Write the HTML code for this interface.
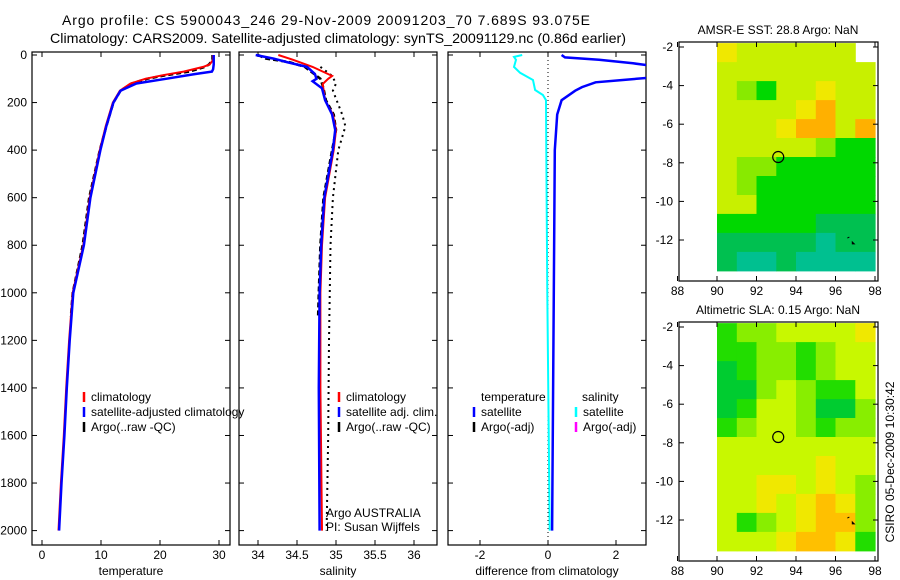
<!DOCTYPE html>
<html><head><meta charset="utf-8">
<style>
html,body{margin:0;padding:0;background:#fff;}
svg{display:block;font-family:"Liberation Sans",sans-serif;}
</style></head>
<body>
<svg id="fig" width="900" height="580" viewBox="0 0 900 580" xmlns="http://www.w3.org/2000/svg">
<text x="62" y="25" font-size="14" textLength="528" lengthAdjust="spacing">Argo profile: CS 5900043_246 29-Nov-2009 20091203_70 7.689S 93.075E</text>
<text x="50" y="43" font-size="14" textLength="576" lengthAdjust="spacingAndGlyphs">Climatology: CARS2009. Satellite-adjusted climatology: synTS_20091129.nc (0.86d earlier)</text>
<text transform="translate(894,462) rotate(-90)" font-size="12" text-anchor="middle">CSIRO 05-Dec-2009 10:30:42</text>
</svg>
<script>
// ---------- data ----------
const tClimDepth=[0,20,40,50,70,85,100,120,150,200,300,400,600,800,1000,1200,1400,1600,1800,2000];
const tClimVal=[29,29,28.4,27.3,24,20.5,17.5,15,13.2,12,10.8,9.8,8.1,7,5.2,4.6,4.1,3.7,3.2,2.8];
const tSatDepth=[0,20,40,60,70,80,100,120,150,200,300,400,600,800,1000,1200,1400,1600,1800,2000];
const tSatVal=[29.1,29.1,29.1,29,28.8,26,21,16,13.3,12.1,10.9,9.9,8.2,7.1,5.3,4.7,4.2,3.8,3.3,2.9];
const tArgoDepth=[0,20,40,50,70,85,100,120,150,200,300,400,600,800,1000,1100];
const tArgoVal=[28.9,28.9,28.3,27.6,25,21,17.8,15.2,13.3,12.1,10.9,9.8,8.0,6.9,5.2,4.9];
const sClimDepth=[0,20,50,88,100,122,190,250,315,400,600,800,1000,1400,2000];
const sClimVal=[34.26,34.45,34.7,34.95,34.9,34.83,34.86,34.96,35.0,34.97,34.86,34.82,34.8,34.8,34.82];
const sSatDepth=[0,15,30,50,80,100,110,140,190,250,315,400,600,800,1000,1400,2000];
const sSatVal=[33.97,34.2,34.37,34.63,34.73,34.75,34.7,34.82,34.86,34.95,34.99,34.96,34.85,34.81,34.79,34.78,34.79];
const sArgoDepth=[0,15,30,50,80,100,140,190,250,315,400,600,800,1000,1100];
const sArgoVal=[34.0,34.1,34.4,34.6,34.72,34.8,34.84,34.87,34.97,35.0,34.95,34.84,34.8,34.78,34.77];
const sArgoAdjDepth=[50,75,88,120,150,250,300,400,600,800,1200,1600,2000];
const sArgoAdjVal=[34.8,34.9,34.95,35.0,34.96,35.08,35.12,35.03,34.96,34.93,34.91,34.9,34.88];
const dTDepth=[0,10,20,35,50,80,95,105,115,135,150,190,250,400,1000,2000];
const dTVal=[0.4,0.5,1.5,2.5,3.3,3.5,3,2.2,1.4,1.0,0.8,0.4,0.27,0.2,0.17,0.12];
const dSDepth=[0,8,20,50,75,105,147,168,190,400,1000,2000];
const dSVal=[-0.76,-1.0,-0.94,-1.0,-0.82,-0.44,-0.38,-0.15,-0.06,-0.05,-0.02,0.05];
const depthTicks=[0,200,400,600,800,1000,1200,1400,1600,1800,2000];
const tTicks=[0,10,20,30];
const sTicks=[34,34.5,35,35.5,36];
const sTickLabels=["34","34.5","35","35.5","36"];
const dTicks=[-2,0,2];
const lonTicks=[88,90,92,94,96,98];
const latTicks=[-2,-4,-6,-8,-10,-12];
const sstGrid=[
[5,4,4,4,4,4,4,-1],[4,4,4,4,4,4,4,4],[4,3,2,4,4,5,4,4],[4,4,4,4,5,6,4,4],
[4,4,4,5,6,6,4,6],[4,4,4,4,4,3,2,2],[4,3,3,2,2,2,2,2],[4,3,2,2,2,2,2,2],
[4,4,2,2,2,2,2,2],[2,2,2,2,2,1,1,1],[1,1,1,1,1,0,1,1],[1,0,0,1,0,0,0,0]];
const slaGrid=[
[1,2,2,3,3,3,3,4],[1,1,2,2,1,2,3,3],[0,1,2,2,1,2,3,3],[0,0,2,3,2,1,1,3],
[0,1,3,3,2,0,0,2],[1,2,3,3,2,1,2,2],[3,3,3,3,3,3,3,3],[3,3,3,3,3,4,3,3],
[3,3,4,4,3,4,3,2],[3,3,4,3,4,5,4,2],[3,1,2,3,4,5,5,2],[3,3,3,4,5,5,4,1]];
const sstPalette=["#00c090","#00c050","#00d800","#88ea00","#c8f000","#f0e800","#ffb000","#c83000"];
const slaPalette=["#00cc30","#22dd00","#88ee00","#c8f800","#f0e800","#ffc000"];
const profLon=93.1, profLat=-7.7;

// ---------- helpers ----------
const NS="http://www.w3.org/2000/svg";
const svg=document.getElementById('fig');
function mk(tag,attrs){const e=document.createElementNS(NS,tag);for(const k in attrs)e.setAttribute(k,attrs[k]);svg.appendChild(e);return e;}
const yD=d=>55+d*0.2378;
const xT=t=>42+5.9*t;
const xS=s=>258+78*(s-34);
const xDf=d=>548+34*d;

function panel(name,x0,x1,xs,xticks,xlabels,title,showY){
  const f=mk('rect',{x:x0,y:52,width:x1-x0,height:493,fill:'none',stroke:'#000','stroke-width':1.2});
  
  
  depthTicks.forEach(d=>{
    const y=yD(d);
    const a=mk('line',{x1:x0,x2:x0+5,y1:y,y2:y,stroke:'#000'});
    
    
    const b=mk('line',{x1:x1-5,x2:x1,y1:y,y2:y,stroke:'#000'});
    
    
    if(showY){const t=mk('text',{x:27,y:y+4,'font-size':12,'text-anchor':'end'});t.textContent=d;
      
      }
  });
  xticks.forEach((v,i)=>{
    const x=xs(v);
    const a=mk('line',{x1:x,x2:x,y1:545,y2:540,stroke:'#000'});
    
    
    const b=mk('line',{x1:x,x2:x,y1:52,y2:57,stroke:'#000'});
    
    
    const t=mk('text',{x:x,y:559,'font-size':12,'text-anchor':'middle'});t.textContent=xlabels[i];
    
    
  });
  const t=mk('text',{x:(x0+x1)/2,y:575,'font-size':12,'text-anchor':'middle'});t.textContent=title;
  
  
}
function line(name,depths,vals,xs,color,w,dash,clip){
  const pts=depths.map((d,i)=>xs(vals[i]).toFixed(1)+','+yD(d).toFixed(1)).join(' ');
  const a={points:pts,fill:'none',stroke:color,'stroke-width':w};
  if(dash)a['stroke-dasharray']=dash;
  if(clip)a['clip-path']='url(#'+clip+')';
  const p=mk('polyline',a);
  
  
}
function legendEntry(name,x,y,color,label){
  const m=mk('line',{x1:x,x2:x,y1:y-9,y2:y+1,stroke:color,'stroke-width':2.5});
  
  
  if(label){const t=mk('text',{x:x+7,y:y,'font-size':12});t.textContent=label;
    
    }
}
const defs=mk('defs',{});
const cp=document.createElementNS(NS,'clipPath');cp.setAttribute('id','c3');
const cr=document.createElementNS(NS,'rect');cr.setAttribute('x',448);cr.setAttribute('y',52);cr.setAttribute('width',198);cr.setAttribute('height',493);
cp.appendChild(cr);defs.appendChild(cp);

// ---------- panel 1: temperature ----------
panel('temperature-panel',32,230,xT,tTicks,tTicks.map(String),'temperature',true);
line('temp-argo-line',tArgoDepth,tArgoVal,xT,'#000',2.5,'5,3');
line('temp-climatology-line',tClimDepth,tClimVal,xT,'#f00',2);
line('temp-satellite-line',tSatDepth,tSatVal,xT,'#00f',2.5);
legendEntry('temp-legend-climatology',84,401,'#f00','climatology');
legendEntry('temp-legend-satellite',84,416,'#00f','satellite-adjusted climatology');
legendEntry('temp-legend-argo',84,431,'#000','Argo(..raw -QC)');
// ---------- panel 2: salinity ----------
panel('salinity-panel',239,437,xS,sTicks,sTickLabels,'salinity',false);
line('sal-argo-adj-line',sArgoAdjDepth,sArgoAdjVal,xS,'#000',2,'2,4');
line('sal-argo-line',sArgoDepth,sArgoVal,xS,'#000',2.5,'5,3');
line('sal-climatology-line',sClimDepth,sClimVal,xS,'#f00',2);
line('sal-satellite-line',sSatDepth,sSatVal,xS,'#00f',2.5);
legendEntry('sal-legend-climatology',339,401,'#f00','climatology');
legendEntry('sal-legend-satellite',339,416,'#00f','satellite adj. clim.');
legendEntry('sal-legend-argo',339,431,'#000','Argo(..raw -QC)');
[['Argo AUSTRALIA',517],['PI: Susan Wijffels',531]].forEach(a=>{const t=mk('text',{x:326,y:a[1],'font-size':12});t.textContent=a[0];
  
  });
// ---------- panel 3: difference ----------
panel('difference-panel',448,646,xDf,dTicks,dTicks.map(String),'difference from climatology',false);
const zl=mk('line',{x1:xDf(0),x2:xDf(0),y1:52,y2:545,stroke:'#000','stroke-dasharray':'1,3'});


line('diff-salinity-line',dSDepth,dSVal,xDf,'#0ff',2);
line('diff-temperature-line',dTDepth,dTVal,xDf,'#00f',2.5,null,'c3');
[['temperature',481,401],['salinity',582,401]].forEach(a=>{const t=mk('text',{x:a[1],y:a[2],'font-size':12});t.textContent=a[0];
  
  });
legendEntry('diff-legend-temp-satellite',474,416,'#00f','satellite');
legendEntry('diff-legend-temp-argo',474,431,'#000','Argo(-adj)');
legendEntry('diff-legend-sal-satellite',576,416,'#0ff','satellite');
legendEntry('diff-legend-sal-argo',576,431,'#f0f','Argo(-adj)');

// ---------- maps ----------
function map(name,top,grid,pal,title){
  const xL=lon=>717+(lon-90)*19.75;
  const yL=lat=>top+5+(-2-lat)*19.3;
  const rows=grid.length;
  const latTop=-1.8, latBot=-13.6, dLat=(latTop-latBot)/rows;
  grid.forEach((row,r)=>row.forEach((v,c)=>{
    if(v<0)return;
    const y0=yL(latTop-r*dLat), y1=yL(latTop-(r+1)*dLat);
    const x0=xL(90+c), x1=xL(91+c);
    const cell=mk('rect',{x:x0.toFixed(1),y:y0.toFixed(1),width:(x1-x0+0.5).toFixed(1),height:(y1-y0+0.5).toFixed(1),fill:pal[v]});
    
    
  }));
  const fr=mk('rect',{x:679,y:top,width:199,height:239,fill:'none',stroke:'#000','stroke-width':1.2});
  
  
  lonTicks.forEach(l=>{const x=xL(l);
    const a=mk('line',{x1:x,x2:x,y1:top+239,y2:top+234,stroke:'#000'});
    
    
    const b=mk('line',{x1:x,x2:x,y1:top,y2:top+5,stroke:'#000'});
    
    
    const t=mk('text',{x:x,y:top+253,'font-size':12,'text-anchor':'middle'});t.textContent=l;
    
    });
  latTicks.forEach(l=>{const y=yL(l);
    const a=mk('line',{x1:679,x2:684,y1:y,y2:y,stroke:'#000'});
    
    
    const b=mk('line',{x1:873,x2:878,y1:y,y2:y,stroke:'#000'});
    
    
    const t=mk('text',{x:673,y:y+4,'font-size':12,'text-anchor':'end'});t.textContent=l;
    
    });
  const c=mk('circle',{cx:xL(profLon),cy:yL(profLat),r:5.5,fill:'none',stroke:'#000','stroke-width':1.2});
  
  
  const isl=mk('path',{d:`M${xL(96.6)} ${yL(-11.9)} l2 -1 M${xL(96.85)} ${yL(-12.1)} l2 2 l-2 0 z`,stroke:'#000',fill:'none','stroke-width':1});
  
  
  const t=mk('text',{x:778,y:top-8,'font-size':12,'text-anchor':'middle'});t.textContent=title;
  
  
}
map('sst-map',42,sstGrid,sstPalette,'AMSR-E SST: 28.8 Argo: NaN');
map('sla-map',322,slaGrid,slaPalette,'Altimetric SLA: 0.15 Argo: NaN');
</script>
</body></html>
